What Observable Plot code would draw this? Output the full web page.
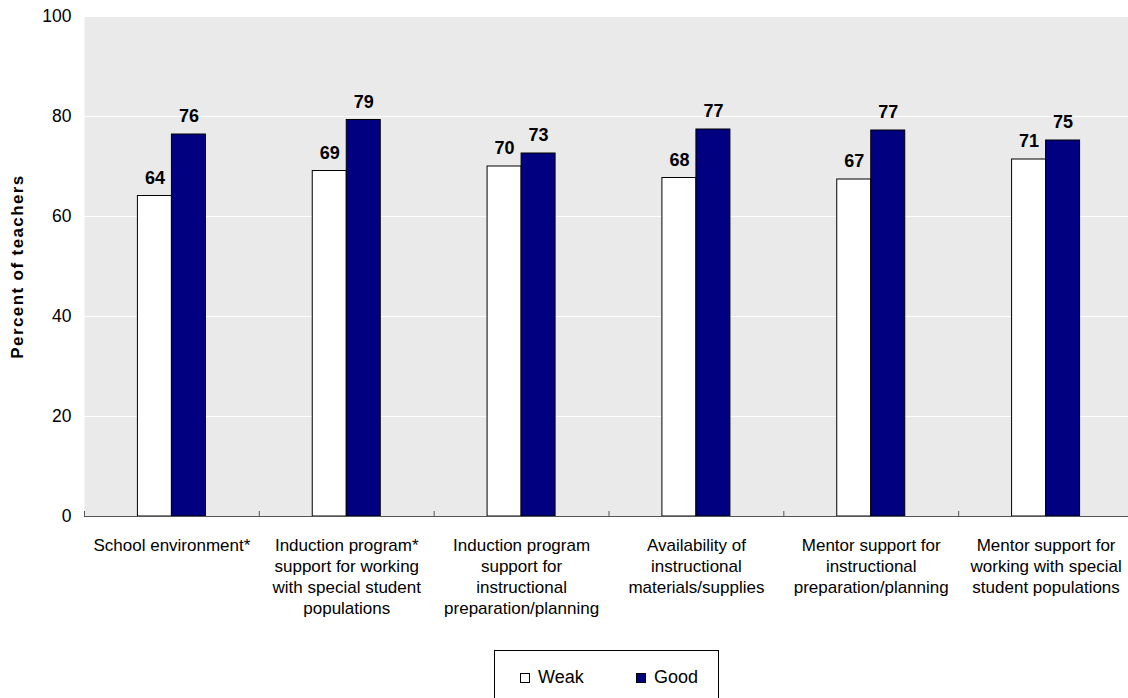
<!DOCTYPE html>
<html>
<head>
<meta charset="utf-8">
<script src="https://cdn.jsdelivr.net/npm/d3@7"></script>
<script src="https://cdn.jsdelivr.net/npm/@observablehq/plot@0.6"></script>
<style>
  html, body { margin: 0; padding: 0; background: #fff; }
  #wrap { position: relative; width: 1128px; height: 698px; overflow: hidden; font-family: "Liberation Sans", Arial, sans-serif; }
  #legend { position: absolute; left: 494px; top: 650px; width: 225px; height: 56px; border: 1px solid #000; box-sizing: border-box; font-size: 18px; color: #000; }
  .item { position: absolute; top: 0; height: 53px; display: flex; align-items: center; }
  .sw { width: 10px; height: 10px; border: 1px solid #000; box-sizing: border-box; margin-right: 8px; }
</style>
</head>
<body>
<div id="wrap">
  <div id="chart"></div>
  <div id="legend"></div>
</div>
<script>
// ---- data ----
const categories = [
  "School environment*",
  "Induction program* support for working with special student populations",
  "Induction program support for instructional preparation/planning",
  "Availability of instructional materials/supplies",
  "Mentor support for instructional preparation/planning",
  "Mentor support for working with special student populations"
];
const categoryLines = [
  "School environment*",
  "Induction program*\nsupport for working\nwith special student\npopulations",
  "Induction program\nsupport for\ninstructional\npreparation/planning",
  "Availability of\ninstructional\nmaterials/supplies",
  "Mentor support for\ninstructional\npreparation/planning",
  "Mentor support for\nworking with special\nstudent populations"
];
const seriesNames = ["Weak", "Good"];
const seriesColors = ["#ffffff", "#000080"];
const weakValues = [64.1, 69.1, 70.0, 67.7, 67.4, 71.4];
const goodValues = [76.4, 79.3, 72.6, 77.4, 77.2, 75.2];
const yTicks = [0, 20, 40, 60, 80, 100];
const yTitle = "Percent of teachers";

// ---- table ----
const weakRows = categories.map((c, i) => ({category: c, series: "Weak", value: weakValues[i]}));
const goodRows = categories.map((c, i) => ({category: c, series: "Good", value: goodValues[i]}));
const labelOf = new Map(categories.map((c, i) => [c, categoryLines[i]]));

// ---- layout ----
const W = 1128, H = 640, mL = 84, mR = -5, mT = 16, mB = 124;
const bw = (W - mL - mR) / categories.length;
const barW = 34;
const font = "'Liberation Sans', Arial, sans-serif";

const chart = Plot.plot({
  width: W, height: H,
  marginLeft: mL, marginRight: mR, marginTop: mT, marginBottom: mB,
  style: {fontFamily: font, fontSize: "17px", color: "#000", background: "transparent", overflow: "visible"},
  x: {domain: categories, padding: 0, round: false, label: null, axis: null},
  y: {domain: [0, 100], label: null, axis: null},
  marks: [
    Plot.frame({fill: "#eaeaea", stroke: null}),
    Plot.gridY(yTicks.slice(1), {stroke: "#ffffff", strokeOpacity: 1, strokeWidth: 1}),
    Plot.barY(weakRows, {x: "category", y: "value", fill: seriesColors[0], stroke: "#000", strokeWidth: 1,
      insetLeft: bw / 2 - barW, insetRight: bw / 2}),
    Plot.barY(goodRows, {x: "category", y: "value", fill: seriesColors[1], stroke: "#000", strokeWidth: 1,
      insetLeft: bw / 2, insetRight: bw / 2 - barW}),
    Plot.text(weakRows, {x: "category", y: "value", text: d => String(Math.round(d.value)),
      dx: -barW / 2, dy: -18, fontWeight: "bold", fontSize: 18, fill: "#000"}),
    Plot.text(goodRows, {x: "category", y: "value", text: d => String(Math.round(d.value)),
      dx: barW / 2, dy: -18, fontWeight: "bold", fontSize: 18, fill: "#000"}),
    Plot.ruleY([0], {stroke: "#555", strokeWidth: 1}),
    Plot.ruleX(categories, {x: d => d, dx: -bw / 2, y1: 0, y2: 1, stroke: "#555", strokeWidth: 1}),
    Plot.axisY({ticks: yTicks, tickSize: 0, tickPadding: 13, fontSize: 17.5, label: null}),
    Plot.axisX({tickSize: 0, tickPadding: 19, tickFormat: d => labelOf.get(d), lineHeight: 1.25, fontSize: 17, label: null}),
    Plot.text([yTitle], {frameAnchor: "left", textAnchor: "middle", rotate: -90, dx: -67,
      fontWeight: "bold", fontSize: 17, fill: "#000"})
  ]
});
d3.select(chart).selectAll("text").filter(function() { return this.textContent === yTitle; })
  .attr("letter-spacing", "1.4px");
document.getElementById("chart").appendChild(chart);

// ---- legend ----
const legend = document.getElementById("legend");
const itemLeft = [25, 141];
seriesNames.forEach((name, i) => {
  const it = document.createElement("div");
  it.className = "item";
  it.style.left = itemLeft[i] + "px";
  const sw = document.createElement("div");
  sw.className = "sw";
  sw.style.background = seriesColors[i];
  const tx = document.createElement("span");
  tx.textContent = name;
  it.appendChild(sw);
  it.appendChild(tx);
  legend.appendChild(it);
});
</script>
</body>
</html>
